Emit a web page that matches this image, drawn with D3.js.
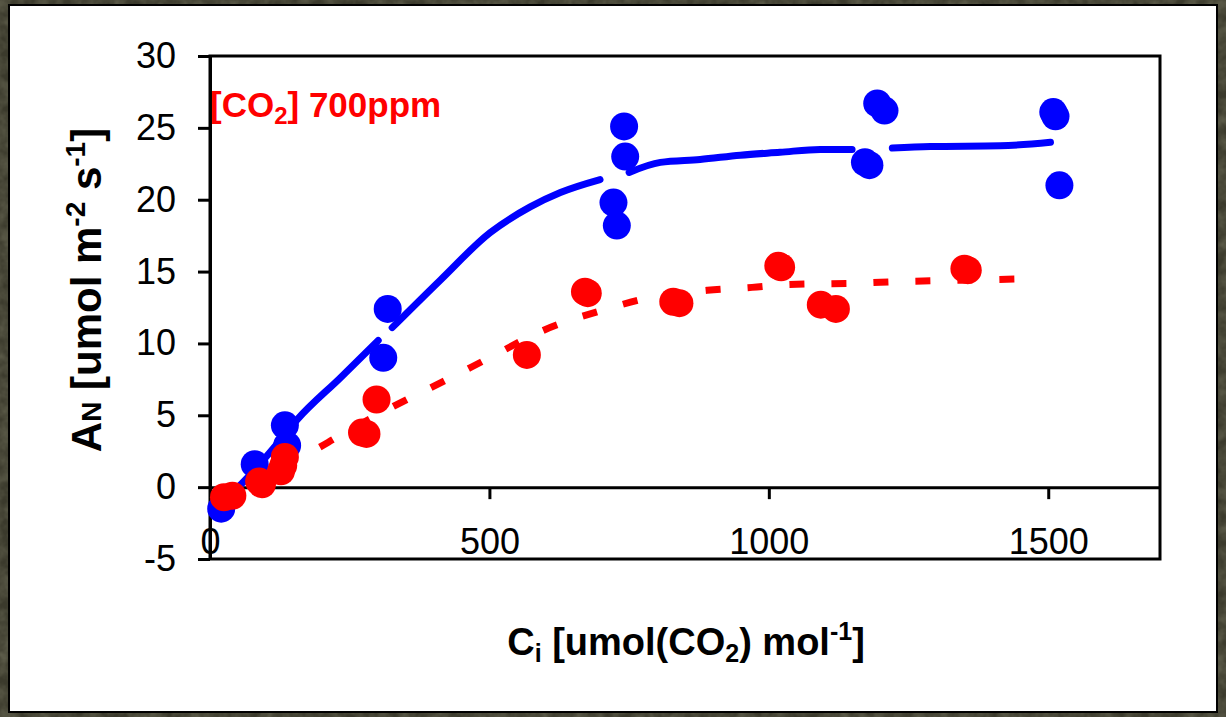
<!DOCTYPE html>
<html>
<head>
<meta charset="utf-8">
<script src="https://cdn.jsdelivr.net/npm/d3@7"></script>
<style>
  html, body { margin: 0; padding: 0; background: #3d3c2d; }
  svg { display: block; font-family: Arial, "Liberation Sans", sans-serif; }
</style>
</head>
<body>
<svg id="chart" width="1226" height="717"></svg>
<script>
// Net assimilation (A_N) versus intercellular CO2 (C_i), two measurement sets
const bluePoints = [
  [20, -1.5], [80, 1.6], [134, 4.3], [138, 2.9], [310, 9.0], [318, 12.4],
  [722, 19.8], [728, 18.2], [741, 25.1], [743, 23.0],
  [1172, 22.6], [1180, 22.4], [1194, 26.7], [1207, 26.2],
  [1509, 26.1], [1513, 25.8], [1520, 21.0]
];
const redPoints = [
  [25, -0.7], [40, -0.6], [88, 0.4], [93, 0.2], [127, 1.1], [131, 1.5], [134, 2.1],
  [272, 3.8], [280, 3.7], [298, 6.1], [567, 9.2], [671, 13.6], [676, 13.5],
  [829, 12.9], [840, 12.8], [1017, 15.4], [1022, 15.3], [1093, 12.7], [1120, 12.4],
  [1350, 15.2], [1356, 15.1]
];
// fitted curve for the blue set; null marks a break in the line
const blueCurve = [
  [5, -1.6], [40, -0.4], [80, 1.2], [120, 3.0], [156, 4.7], [233, 7.6], [301, 10.2], null,
  [326, 11.1], [412, 14.4], [501, 17.7], [573, 19.5], [627, 20.5], [698, 21.4], null,
  [750, 21.9], [806, 22.6], [877, 22.8], [949, 23.1], [1020, 23.3], [1092, 23.5], [1149, 23.5], null,
  [1221, 23.6], [1289, 23.7], [1414, 23.75], [1504, 24.0]
];
// fitted curve for the red set (dashed)
const redCurve = [
  [0, -1.4], [50, 0.0], [100, 1.2], [173, 2.3], [233, 3.6], [337, 5.8], [415, 7.3],
  [500, 9.0], [596, 10.9], [710, 12.4], [788, 13.2], [890, 13.7], [970, 13.9],
  [1037, 14.1], [1164, 14.2], [1232, 14.3], [1350, 14.4], [1470, 14.5]
];
const xTicks = [0, 500, 1000, 1500];
const yTicks = [-5, 0, 5, 10, 15, 20, 25, 30];

const svg = d3.select("#chart");

// dark textured surround
const defs = svg.append("defs");
const f = defs.append("filter").attr("id", "grain").attr("x", 0).attr("y", 0).attr("width", "100%").attr("height", "100%");
f.append("feTurbulence").attr("type", "fractalNoise").attr("baseFrequency", 0.08).attr("numOctaves", 3).attr("seed", 4).attr("result", "n");
f.append("feColorMatrix").attr("in", "n").attr("type", "matrix")
  .attr("values", "0 0 0 0 0.30  0 0 0 0 0.30  0 0 0 0 0.20  0.6 0 0 0 -0.15");
svg.append("rect").attr("width", 1226).attr("height", 717).attr("fill", "#3b3a2c");
svg.append("rect").attr("width", 1226).attr("height", 717).attr("filter", "url(#grain)");

// white panel
svg.append("rect").attr("x", 9).attr("y", 5).attr("width", 1208).attr("height", 707)
  .attr("fill", "#fff").attr("stroke", "#000").attr("stroke-width", 2);

const x = d3.scaleLinear().domain([0, 1700]).range([210, 1160]);
const y = d3.scaleLinear().domain([-5, 30]).range([559, 56]);
const plain = d => String(d).replace("\u2212", "-");

// plot frame
svg.append("rect").attr("x", x(0)).attr("y", y(30)).attr("width", x(1700) - x(0)).attr("height", y(-5) - y(30))
  .attr("fill", "none").attr("stroke", "#000").attr("stroke-width", 3);

// y axis
const yAxis = svg.append("g").attr("transform", `translate(${x(0)},0)`)
  .call(d3.axisLeft(y).tickValues(yTicks).tickFormat(plain).tickSize(12).tickSizeOuter(0).tickPadding(22));
yAxis.select(".domain").attr("stroke-width", 3);
yAxis.selectAll(".tick line").attr("stroke-width", 3);
yAxis.selectAll("text").attr("font-size", 36).attr("fill", "#000").attr("font-family", "Arial, 'Liberation Sans', sans-serif");

// x axis drawn along A_N = 0
const xAxis = svg.append("g").attr("transform", `translate(0,${y(0)})`)
  .call(d3.axisBottom(x).tickValues(xTicks).tickFormat(plain).tickSize(12).tickSizeOuter(0).tickPadding(29));
xAxis.select(".domain").attr("stroke-width", 3);
xAxis.selectAll(".tick line").attr("stroke-width", 3);
xAxis.selectAll("text").attr("font-size", 36).attr("fill", "#000").attr("font-family", "Arial, 'Liberation Sans', sans-serif");

const line = d3.line().defined(d => d !== null).x(d => x(d[0])).y(d => y(d[1])).curve(d3.curveMonotoneX);

svg.append("path").datum(redCurve).attr("d", line)
  .attr("fill", "none").attr("stroke", "#ff0000").attr("stroke-width", 7)
  .attr("stroke-dasharray", "15,27");

svg.append("path").datum(blueCurve).attr("d", line)
  .attr("fill", "none").attr("stroke", "#0000ff").attr("stroke-width", 7)
  .attr("stroke-linecap", "round").attr("stroke-linejoin", "round");

svg.append("g").selectAll("circle").data(bluePoints).join("circle")
  .attr("cx", d => x(d[0])).attr("cy", d => y(d[1])).attr("r", 14).attr("fill", "#0000ff");
svg.append("g").selectAll("circle").data(redPoints).join("circle")
  .attr("cx", d => x(d[0])).attr("cy", d => y(d[1])).attr("r", 14).attr("fill", "#ff0000");

// annotation
const note = svg.append("text").attr("x", 210).attr("y", 117).attr("fill", "#ff0000")
  .attr("font-size", 35).attr("font-weight", "bold");
note.append("tspan").text("[CO");
note.append("tspan").attr("font-size", 24).attr("dy", 7).text("2");
note.append("tspan").attr("dy", -7).text("] 700ppm");

// x title
const xt = svg.append("text").attr("x", 686).attr("y", 655).attr("text-anchor", "middle")
  .attr("font-size", 38).attr("font-weight", "bold").attr("fill", "#000");
xt.append("tspan").text("C");
xt.append("tspan").attr("font-size", 25).attr("dy", 7).text("i");
xt.append("tspan").attr("dy", -7).text(" [umol(CO");
xt.append("tspan").attr("font-size", 25).attr("dy", 7).text("2");
xt.append("tspan").attr("dy", -7).text(") mol");
xt.append("tspan").attr("font-size", 25).attr("dy", -15).text("-1");
xt.append("tspan").attr("dy", 15).text("]");

// y title
const yt = svg.append("text").attr("transform", "translate(101,290) rotate(-90)").attr("text-anchor", "middle")
  .attr("font-size", 42).attr("font-weight", "bold").attr("fill", "#000");
yt.append("tspan").text("A");
yt.append("tspan").attr("font-size", 28).text("N");
yt.append("tspan").text(" [umol m");
yt.append("tspan").attr("font-size", 28).attr("dy", -16).text("-2");
yt.append("tspan").attr("dy", 16).text(" s");
yt.append("tspan").attr("font-size", 28).attr("dy", -16).text("-1");
yt.append("tspan").attr("dy", 16).text("]");
</script>
</body>
</html>
